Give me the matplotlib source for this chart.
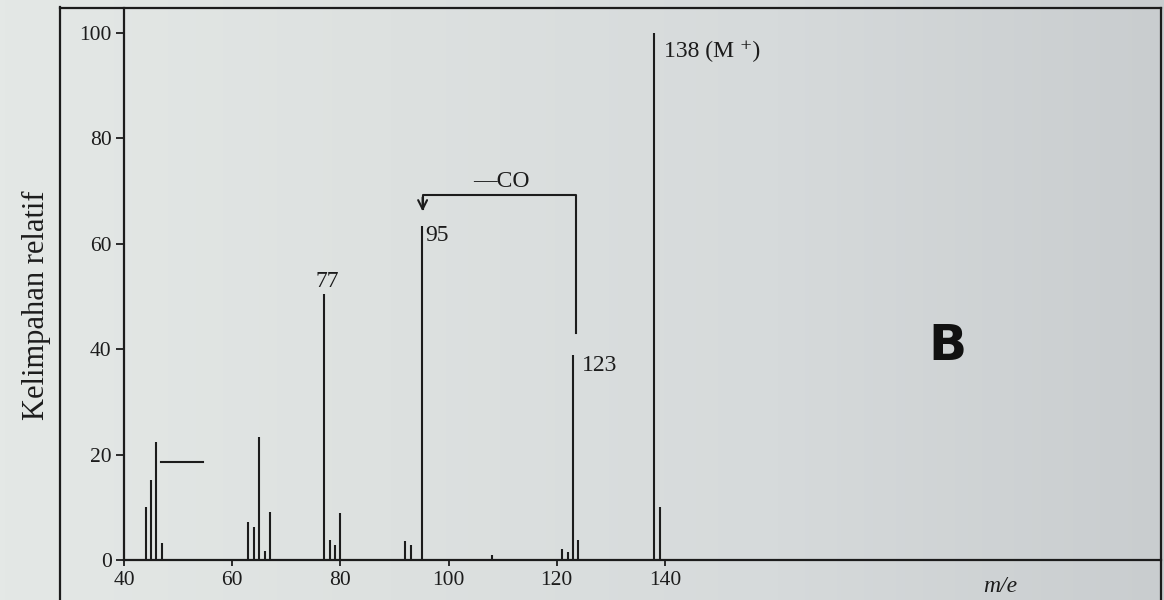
import numpy as np
import matplotlib
matplotlib.use("Agg")
import matplotlib.pyplot as plt
from matplotlib.lines import Line2D
from matplotlib.colors import LinearSegmentedColormap

plt.rcParams['font.family'] = ['Liberation Serif', 'DejaVu Serif']

# mass spectrum peaks (m/e, relative abundance)
mz = [44, 45, 46, 47, 63, 64, 65, 66, 67, 77, 78, 79, 80,
      92, 93, 95, 108, 121, 122, 123, 124, 138, 139]
abundance = [10.0, 15.2, 22.4, 3.3, 7.2, 6.3, 23.3, 1.8, 9.1, 50.5, 3.8, 2.8, 8.9,
             3.6, 2.8, 63.4, 1.0, 2.0, 1.6, 38.9, 3.8, 100, 10]

x_ticks = [40, 60, 80, 100, 120, 140]
y_ticks = [0, 20, 40, 60, 80, 100]

ink = '#1c1c1c'
W, H = 1164, 600

fig = plt.figure(figsize=(11.64, 6), dpi=100)

# photo-like paper background
bg = fig.add_axes([0, 0, 1, 1], zorder=-10)
paper = LinearSegmentedColormap.from_list('paper', ['#e4e8e6', '#dde1e0', '#d6dadb', '#c9cdcf'])
bg.imshow(np.linspace(0, 1, 256).reshape(1, -1), cmap=paper, aspect='auto',
          extent=[0, 1, 0, 1])
bg.set_axis_off()

ax = fig.add_axes([124 / W, 1 - 560 / H, (1161 - 124) / W, (560 - 8) / H])
ax.set_facecolor('none')

ax.vlines(mz, 0, abundance, color=ink, lw=1.5)

ax.set_xlim(40, 231.7)
ax.set_ylim(0, 104.7)
ax.set_xticks(x_ticks)
ax.set_yticks(y_ticks)
ax.tick_params(axis='both', direction='out', colors=ink, labelsize=15.5, width=1.3)
ax.tick_params(axis='x', length=4, pad=4)
ax.tick_params(axis='y', length=6, pad=3)
ax.spines['top'].set_visible(False)
ax.spines['right'].set_visible(False)
for s in ('left', 'bottom'):
    ax.spines[s].set_linewidth(1.6)
    ax.spines[s].set_color(ink)

# peak labels
ax.text(77.5, 52.8, '77', ha='center', va='center', fontsize=17, color=ink)
ax.text(95.7, 61.6, '95', ha='left', va='center', fontsize=17, color=ink)
ax.text(124.6, 36.9, '123', ha='left', va='center', fontsize=17, color=ink)
ax.text(139.9, 96.4, '138 (M \u207a)', ha='left', va='center', fontsize=17, color=ink)

# loss of CO bracket
ax.plot([123.6, 123.6, 95.2, 95.2], [43.0, 69.3, 69.3, 66.5], color=ink, lw=1.5)
ax.annotate('', xy=(95.2, 65.6), xytext=(95.2, 69.3),
            arrowprops=dict(arrowstyle='->', color=ink, lw=1.5, mutation_scale=16))
ax.text(109.8, 71.8, '\u2014CO', ha='center', va='center', fontsize=17, color=ink)

# stray dash near m/e 45-55
ax.plot([46.8, 54.6], [18.6, 18.6], color=ink, lw=1.5)

# handwritten mark
ax.text(192.3, 40.6, 'B', ha='center', va='center', fontsize=36, color='#111111',
        family='DejaVu Sans', fontweight='bold')

# frame of the printed figure
fig.add_artist(Line2D([60 / W, 60 / W], [0, 1 - 7 / H], color=ink, lw=1.6))
fig.add_artist(Line2D([60 / W, 1161 / W], [1 - 8 / H, 1 - 8 / H], color=ink, lw=1.6))
fig.add_artist(Line2D([1161 / W, 1161 / W], [0, 1 - 8 / H], color=ink, lw=1.6))

fig.text(36 / W, 1 - 305 / H, 'Kelimpahan relatif', rotation=90,
         ha='center', va='center', fontsize=22, color=ink)
fig.text(1000 / W, 1 - 586 / H, 'm/e', ha='center', va='center',
         fontsize=17, style='italic', color=ink)

fig.savefig('out.png', dpi=100)
